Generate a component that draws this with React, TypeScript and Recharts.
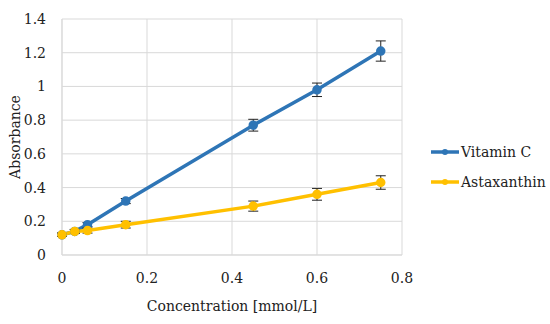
import {
  LineChart,
  Line,
  XAxis,
  YAxis,
  CartesianGrid,
  ErrorBar,
  Legend,
} from "recharts";

const concentrations = [0, 0.03, 0.06, 0.15, 0.45, 0.6, 0.75];
const vitaminC = [0.12, 0.14, 0.18, 0.32, 0.77, 0.98, 1.21];
const vitaminCErr = [0.01, 0.01, 0.012, 0.015, 0.035, 0.04, 0.06];
const astaxanthin = [0.12, 0.14, 0.145, 0.18, 0.29, 0.36, 0.43];
const astaxanthinErr = [0.01, 0.012, 0.015, 0.02, 0.03, 0.035, 0.04];
const seriesNames = ["Vitamin C", "Astaxanthin"];
const xTicks = [0, 0.2, 0.4, 0.6, 0.8];
const yTicks = [0, 0.2, 0.4, 0.6, 0.8, 1, 1.2, 1.4];

const data = concentrations.map((c, i) => ({
  conc: c,
  vitC: vitaminC[i],
  vitCErr: vitaminCErr[i],
  asta: astaxanthin[i],
  astaErr: astaxanthinErr[i],
}));

const FONT = "'DejaVu Serif', serif";

// legend: line with a dot in the middle, like Excel
const renderLegend = (props: any) => {
  const items = [...props.payload].sort(
    (a: any, b: any) => seriesNames.indexOf(a.value) - seriesNames.indexOf(b.value)
  );
  return (
    <div style={{ fontFamily: FONT, fontSize: 14, color: "#222" }}>
      {items.map((p: any) => (
        <div key={p.value} style={{ display: "flex", alignItems: "center", height: 30 }}>
          <svg width={30} height={10}>
            <line x1={1} y1={5} x2={29} y2={5} stroke={p.color} strokeWidth={3.5} />
            <circle cx={15} cy={5} r={3} fill={p.color} />
          </svg>
          <span style={{ marginLeft: 1 }}>{p.value}</span>
        </div>
      ))}
    </div>
  );
};

export default function App() {
  return (
    <div style={{ position: "absolute", left: 0, top: 0, background: "#fff" }}>
      <LineChart
        width={550}
        height={324}
        data={data}
        margin={{ top: 19, right: 28, bottom: 39, left: 0 }}
      >
        <CartesianGrid stroke="#d9d9d9" strokeWidth={1} />
        <XAxis
          dataKey="conc"
          type="number"
          domain={[0, 0.8]}
          ticks={xTicks}
          tickFormatter={(v: number) => String(v)}
          axisLine={{ stroke: "#d9d9d9" }}
          tickLine={false}
          height={30}
          tick={{ fontFamily: FONT, fontSize: 14, fill: "#222" }}
          tickMargin={12}
          label={{
            value: "Concentration [mmol/L]",
            position: "insideBottom",
            offset: -26,
            style: { fontFamily: FONT, fontSize: 14, fill: "#222" },
          }}
        />
        <YAxis
          type="number"
          domain={[0, 1.4]}
          ticks={yTicks}
          axisLine={{ stroke: "#d9d9d9" }}
          tickLine={false}
          width={62}
          tickMargin={10}
          tick={{ fontFamily: FONT, fontSize: 14, fill: "#222" }}
          label={{
            value: "Absorbance",
            angle: -90,
            position: "insideLeft",
            offset: 15,
            style: { fontFamily: FONT, fontSize: 14, fill: "#222", textAnchor: "middle" },
          }}
        />
        <Legend
          layout="vertical"
          align="right"
          verticalAlign="middle"
          content={renderLegend}
          wrapperStyle={{ right: 0, width: 120, top: 137 }}
        />
        <Line
          name="Vitamin C"
          dataKey="vitC"
          stroke="#2E75B6"
          strokeWidth={3.5}
          dot={{ r: 3, fill: "#2E75B6", stroke: "#2E75B6" }}
          isAnimationActive={false}
        >
          <ErrorBar dataKey="vitCErr" direction="y" width={5} stroke="#222" strokeWidth={1} />
        </Line>
        <Line
          name="Astaxanthin"
          dataKey="asta"
          stroke="#FFC000"
          strokeWidth={3.5}
          dot={{ r: 3, fill: "#FFC000", stroke: "#FFC000" }}
          isAnimationActive={false}
        >
          <ErrorBar dataKey="astaErr" direction="y" width={5} stroke="#222" strokeWidth={1} />
        </Line>
      </LineChart>
    </div>
  );
}
